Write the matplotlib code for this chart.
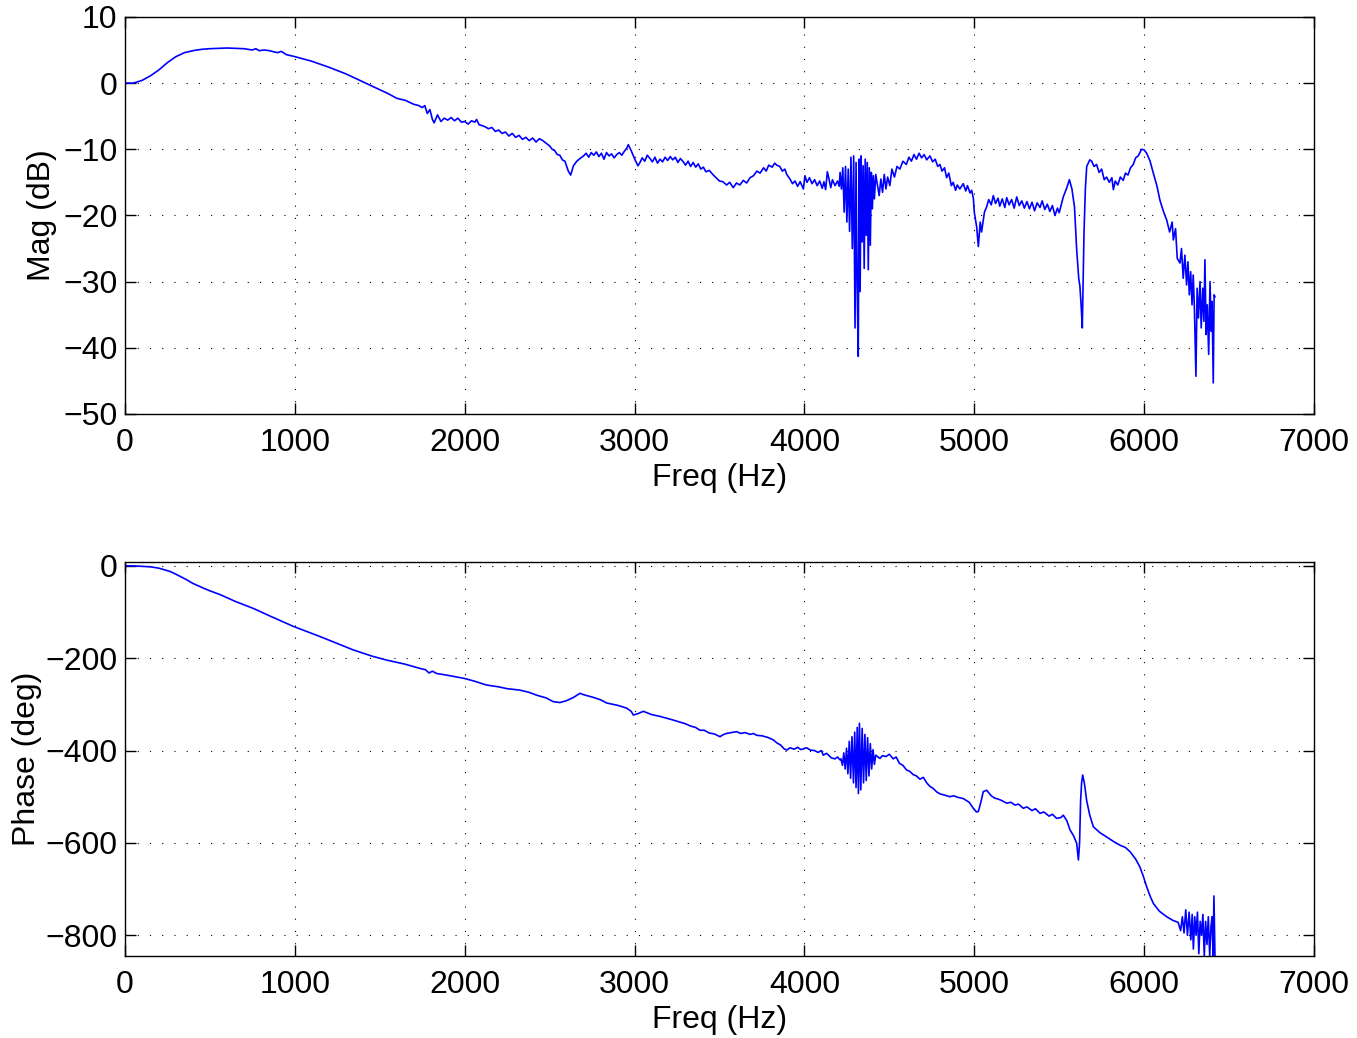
import matplotlib
matplotlib.use("Agg")
import matplotlib.pyplot as plt

# Magnitude response (Hz, dB)
mag_freq = [0, 50, 100, 150, 200, 250, 300, 350, 400, 450, 500, 600, 700, 750, 770, 790, 820, 850, 880, 900, 920, 950,
            1000, 1100, 1200, 1300, 1400, 1500, 1550, 1600, 1650, 1700, 1730, 1750, 1765, 1780, 1795, 1810, 1820, 1840,
            1860, 1880,
            1900, 1920, 1940, 1960, 1980, 2000, 2020, 2040, 2060, 2070, 2085, 2100, 2120, 2140, 2160, 2180, 2200, 2220,
            2240, 2260, 2280, 2300, 2320, 2340, 2360, 2380, 2400, 2420, 2440, 2460, 2480, 2500, 2515, 2530, 2545, 2560,
            2575, 2590, 2610, 2624,
            2640, 2660, 2679, 2700, 2715, 2730, 2745, 2760, 2775, 2790, 2805, 2820, 2835, 2850, 2865, 2880, 2895, 2910,
            2925, 2940, 2955, 2963, 2980,
            3003, 3020, 3032, 3045, 3060, 3075, 3091, 3105, 3120, 3135, 3150, 3165, 3180, 3195, 3210, 3225, 3240, 3255,
            3270, 3287, 3300, 3315, 3330, 3345, 3360, 3375, 3390, 3405, 3420, 3440, 3464, 3480, 3500,
            3520, 3542, 3560, 3581, 3600, 3620, 3640, 3660, 3680, 3700, 3720, 3739, 3760, 3775, 3790, 3810, 3825, 3837,
            3855, 3870, 3885, 3896, 3915, 3930, 3945, 3960, 3975, 3994, 4003, 4015, 4030, 4045, 4060, 4075, 4090, 4105,
            4115, 4125, 4135, 4145, 4155, 4165, 4180, 4195, 4205,
            4210, 4218, 4226, 4234, 4242, 4250, 4258, 4266, 4274, 4282, 4290, 4298, 4304, 4310, 4317, 4322, 4328, 4334,
            4340, 4346, 4352, 4358, 4364, 4370, 4376, 4382, 4388, 4394, 4400, 4406, 4412, 4420,
            4440, 4450, 4460, 4470, 4480, 4490, 4503, 4515, 4530, 4545, 4562, 4580, 4600, 4615, 4630, 4645, 4660, 4675,
            4690, 4705, 4720, 4739, 4755, 4770, 4785, 4798,
            4810, 4825, 4837, 4850, 4865, 4876, 4890, 4900, 4915, 4935, 4950, 4960, 4975, 4985, 4995,
            5000, 5014, 5024, 5035, 5043, 5060,
            5073, 5085, 5100, 5112, 5125, 5140, 5150, 5165, 5180, 5191, 5205, 5220, 5235, 5250, 5265, 5280, 5295, 5310,
            5325, 5340, 5355, 5370, 5387, 5400, 5415, 5430, 5445, 5460, 5475, 5490, 5500, 5510, 5524,
            5545, 5560, 5575, 5590, 5603, 5615, 5622, 5630, 5636, 5646, 5654, 5662, 5680,
            5691, 5705, 5720, 5735, 5750, 5765, 5779, 5795, 5810, 5819, 5830, 5845, 5860, 5877, 5890, 5905, 5920, 5936,
            5950, 5965, 5985, 6000, 6015, 6035, 6054, 6075,
            6093, 6115, 6133, 6150, 6165, 6172, 6185, 6195, 6211, 6220, 6230, 6240, 6250, 6258, 6266, 6274, 6282, 6289,
            6296, 6305, 6312, 6320, 6329, 6336, 6345, 6352, 6358, 6365, 6372, 6380, 6388, 6395, 6400, 6407, 6412, 6417]
mag_db = [0.0, 0.0, 0.4, 1.1, 2.0, 3.1, 4.0, 4.6, 4.9, 5.1, 5.2, 5.3, 5.2, 5.0, 5.2, 4.9, 5.0, 4.9, 4.7, 4.6, 4.8, 4.3,
          4.0, 3.3, 2.4, 1.4, 0.2, -1.0, -1.6, -2.3, -2.6, -3.2, -3.4, -3.7, -3.4, -4.6, -4.0, -5.5, -6.0, -4.8,
          -5.8, -5.3,
          -5.6, -5.2, -5.7, -5.3, -5.9, -5.8, -6.2, -5.7, -5.9, -5.5, -6.3, -6.4, -6.6, -6.9, -6.7, -7.3, -7.1, -7.6,
          -7.4, -8.0, -7.6, -8.2, -7.9, -8.5, -8.2, -8.7, -8.3, -8.9, -8.4, -8.7, -9.1, -9.5, -10.0, -10.2, -10.8, -10.9,
          -11.6, -11.8, -13.3, -13.9,
          -12.5, -11.8, -11.4, -11.0, -10.6, -11.2, -10.5, -10.9, -10.4, -11.1, -10.6, -11.5, -10.5, -11.0, -10.7, -11.3, -10.8, -10.5,
          -10.9, -10.3, -9.8, -9.3, -10.2,
          -11.6, -12.5, -12.0, -11.3, -11.8, -10.9, -11.4, -11.9, -11.2, -12.1, -11.5, -11.9, -11.2, -11.7, -11.1, -11.6, -11.2, -12.0,
          -11.4, -11.9, -12.4, -11.8, -12.6, -12.0, -12.7, -12.2, -13.0, -12.7, -13.4, -13.2, -13.9, -14.3, -14.8,
          -14.9, -15.4, -15.0, -15.8, -15.1, -15.4, -14.7, -15.1, -14.3, -14.0, -13.3, -13.6, -12.8, -13.3, -12.4, -12.7, -12.1, -12.4,
          -12.6, -13.3, -13.0, -13.8, -14.5, -15.2, -14.8, -15.6, -14.9, -16.0, -14.0, -15.0, -14.3, -15.2, -14.6, -15.5, -14.8, -15.9,
          -14.9, -16.1, -13.4, -14.5, -15.8, -14.6, -15.5, -14.8, -15.6,
          -13.5, -16.0, -12.8, -19.5, -12.6, -21.0, -13.0, -22.4, -11.2, -25.0, -11.0, -37.0, -12.0, -30.0, -41.3, -11.5, -31.5, -11.0,
          -24.0, -12.5, -28.0, -11.5, -23.0, -12.0, -28.2, -12.8, -24.5, -13.5, -19.0, -14.0, -17.5, -13.8,
          -17.0, -14.5, -16.5, -13.8, -16.0, -14.2, -15.5, -13.0, -14.2, -12.6, -13.0, -11.8, -12.3, -11.2, -11.8, -10.8, -11.5, -10.6,
          -11.3, -10.8, -11.6, -11.0, -11.9, -11.5, -12.6, -12.3,
          -13.3, -12.8, -14.3, -13.6, -15.5, -15.0, -16.2, -15.4, -16.0, -15.2, -16.3, -15.5, -16.6, -16.2, -17.5,
          -19.5, -21.7, -24.7, -21.0, -22.5, -19.5,
          -18.7, -17.6, -18.4, -17.0, -18.2, -17.4, -18.6, -17.5, -18.8, -17.3, -18.4, -17.6, -18.9, -17.2, -18.5, -17.8, -18.9, -17.9,
          -19.0, -18.0, -19.3, -18.1, -18.8, -17.8, -19.1, -18.3, -19.4, -18.5, -20.0, -18.9, -19.6, -18.6, -17.2,
          -15.8, -14.6, -16.0, -18.7, -25.2, -29.5, -30.7, -34.0, -37.0, -22.7, -16.0, -12.6, -11.6,
          -11.8, -12.6, -12.3, -13.5, -13.0, -14.6, -14.2, -15.0, -14.3, -16.1, -14.8, -15.4, -14.2, -14.7, -13.6, -13.9, -12.8, -12.3,
          -11.3, -11.0, -10.0, -10.1, -10.6, -11.8, -13.6, -15.5,
          -17.7, -19.5, -20.7, -22.5, -21.0, -23.7, -22.0, -26.5, -27.2, -25.0, -29.5, -26.0, -30.5, -27.0, -32.0, -28.5, -33.5, -29.0,
          -34.0, -44.3, -31.0, -35.5, -30.0, -37.0, -31.0, -36.0, -26.7, -38.0, -33.5, -41.0, -30.0, -37.5, -33.0, -45.3, -32.0, -32.3]

# Phase response (Hz, deg)
ph_freq = [0, 50, 100, 150, 200, 265, 300, 363, 400, 461, 500, 559, 650, 755, 850, 991, 1148, 1250, 1344, 1450, 1540,
           1650, 1736, 1770, 1790, 1810, 1834, 1900, 2001, 2060, 2128, 2200, 2250, 2324, 2380, 2423, 2480, 2521, 2561,
           2599, 2640, 2679, 2700, 2750, 2800, 2836, 2900, 2953, 2980, 2993, 3020, 3052, 3100, 3150, 3228,
           3300, 3330, 3360, 3385, 3410, 3440, 3470, 3503, 3520, 3540, 3570, 3601, 3625, 3650, 3680, 3700, 3719, 3750,
           3780, 3800, 3817, 3840, 3860, 3880, 3896, 3915, 3940, 3960, 3980, 4013, 4035, 4060, 4080, 4100, 4111, 4130,
           4160, 4180, 4195, 4209,
           4215, 4224, 4232, 4240, 4248, 4256, 4264, 4272, 4280, 4289, 4296, 4304, 4311, 4318, 4324, 4332, 4340, 4348,
           4356, 4364, 4372, 4380, 4388, 4396, 4404, 4412, 4420,
           4444, 4460, 4480, 4500, 4523, 4540, 4560, 4580, 4601, 4620, 4640, 4660, 4680, 4700, 4720, 4740, 4758, 4780,
           4800, 4830, 4856, 4880, 4900, 4935, 4970, 4994, 5013, 5024, 5040, 5053, 5073,
           5100, 5120, 5140, 5160, 5191, 5215, 5240, 5260, 5289, 5310, 5340, 5360, 5387, 5410, 5440, 5460, 5485, 5510,
           5524, 5545, 5564, 5585, 5603, 5613,
           5620, 5626, 5632, 5638, 5648, 5662, 5680, 5701, 5740, 5779, 5820, 5858, 5890, 5917, 5950, 5975, 5995, 6015,
           6035, 6054, 6090, 6133, 6170, 6200, 6215, 6225, 6235, 6245, 6255, 6265, 6275, 6283, 6290, 6298, 6306, 6314,
           6322, 6330, 6338, 6346, 6354, 6362, 6370, 6378, 6386, 6394, 6400, 6406, 6411, 6417]
ph_deg = [0, 0, -1, -2, -5, -12, -18, -30, -38, -48, -54, -62, -77, -92, -108, -131, -153, -168, -182, -195, -204,
          -213, -222, -225, -232, -228, -233, -237, -244, -250, -258, -262, -266, -269, -274, -280, -286, -294, -296,
          -292, -285, -276, -279, -284, -290, -297, -302, -308, -315, -323, -320, -315, -322, -326, -334,
          -342, -347, -350, -356, -356, -362, -364, -370, -366, -363, -361, -359, -363, -361, -365, -363, -367, -368,
          -371, -374, -377, -384, -388, -396, -399, -394, -397, -393, -398, -394, -399, -400, -404, -400, -410, -406,
          -416, -418, -414, -420,
          -418, -432, -405, -440, -395, -450, -380, -460, -370, -470, -360, -480, -350, -493, -341, -485, -352, -470,
          -365, -465, -372, -455, -385, -440, -398, -430, -410,
          -417, -411, -413, -408, -418, -414, -428, -432, -442, -445, -452, -455, -462, -458, -470, -478, -482, -490,
          -494, -497, -500, -498, -501, -504, -512, -525, -533, -532, -510, -489, -486,
          -498, -503, -505, -508, -514, -512, -518, -516, -525, -522, -530, -526, -536, -533, -542, -538, -547, -545,
          -540, -552, -572, -585, -601, -637,
          -600, -509, -470, -453, -470, -509, -540, -565, -578, -587, -597, -605, -610, -619, -635, -652, -672, -695,
          -715, -731, -748, -760, -768, -772, -790, -760, -795, -745, -800, -750, -810, -755, -830, -760, -800, -750,
          -840, -770, -800, -755, -845, -770, -820, -760, -845, -780, -760, -845, -715, -845]

plt.rcParams['font.family'] = ['Liberation Sans', 'DejaVu Sans']
plt.rcParams['font.size'] = 23

fig = plt.figure(figsize=(13.57, 10.38), dpi=100)
ax1 = fig.add_axes([0.0921, 0.6012, 0.8762, 0.3825])
ax2 = fig.add_axes([0.0921, 0.0790, 0.8762, 0.3796])

ax1.plot(mag_freq, mag_db, color=(0, 0, 1), linewidth=1.2)
ax2.plot(ph_freq, ph_deg, color=(0, 0, 1), linewidth=1.2)

ax1.set_xlim(0, 7000)
ax1.set_ylim(-50, 10)
ax1.set_yticks(range(-50, 11, 10))
ax2.set_xlim(0, 7000)
ax2.set_ylim(-845, 8.5)
ax2.set_yticks([-800, -600, -400, -200, 0])

for ax in (ax1, ax2):
    ax.set_xticks(range(0, 7001, 1000))
    ax.grid(True, color='k', linestyle=(0, (1, 10)), linewidth=0.8)
    ax.tick_params(direction='in', length=8, width=1, top=True, right=True)
    ax.tick_params(axis='x', pad=10)
    ax.tick_params(axis='y', pad=5.5)
    for s in ax.spines.values():
        s.set_linewidth(1.0)
    ax.set_xlabel('Freq (Hz)', labelpad=4)

ax1.set_ylabel('Mag (dB)', labelpad=4)
ax2.set_ylabel('Phase (deg)', labelpad=2)

fig.savefig('out.png', dpi=100)
